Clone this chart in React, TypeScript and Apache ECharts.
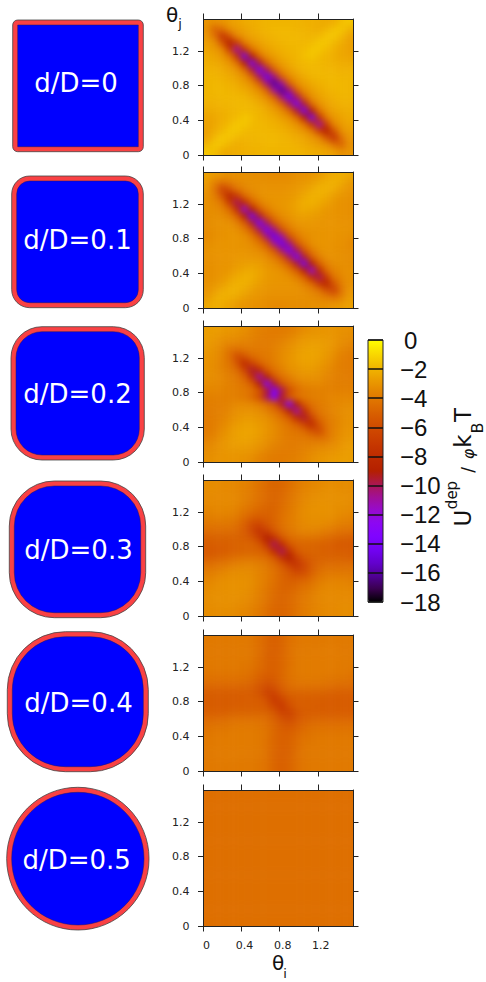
import React, { useEffect, useRef } from "react";
import * as echarts from "echarts";

// Depletion potential depth |U| (rows top to bottom, columns theta_i ascending)
const depth0 = [
[3,3.2,3,2.7,2.5,2.3,2.2,2.1,2,2,2,2,2,2.1,2.1,2.2,2.3,2.2,1.7,1.5],
[3.2,4.8,4.4,3.2,2.8,2.5,2.3,2.1,2,1.9,1.9,1.9,2,2,2.1,2.2,2,1.6,1.5,2],
[3,4.4,7.5,5.6,3.5,2.9,2.5,2.3,2.1,2,1.9,1.9,1.9,2,2,1.9,1.6,1.5,1.9,2.5],
[2.7,3.2,5.6,9,6.8,3.9,3,2.6,2.3,2.1,2,1.9,1.9,1.9,1.8,1.5,1.5,1.9,2.2,2.6],
[2.5,2.8,3.5,6.8,11,7.5,4.3,3.1,2.6,2.3,2.1,2,1.9,1.8,1.5,1.5,1.8,2.1,2.4,2.6],
[2.3,2.5,2.9,3.9,7.5,14,9,4.6,3.2,2.7,2.3,2.1,2,1.7,1.5,1.8,2,2.2,2.4,2.5],
[2.2,2.3,2.5,3,4.3,9,14,9.5,4.8,3.3,2.7,2.3,2,1.9,1.8,1.9,2,2.1,2.2,2.3],
[2.1,2.1,2.3,2.6,3.1,4.6,9.5,14,10,5,3.4,2.7,2.3,2,1.9,1.9,2,2,2.1,2.1],
[2,2,2.1,2.3,2.6,3.2,4.8,10,14.5,10.5,5,3.4,2.7,2.3,2,1.9,1.9,1.9,2,2],
[2,1.9,2,2.1,2.3,2.7,3.3,5,10.5,16,11,5,3.3,2.7,2.3,2.1,2,1.9,1.9,2],
[2,1.9,1.9,2,2.1,2.3,2.7,3.3,5,11,16,10.5,5,3.3,2.7,2.3,2.1,2,1.9,2],
[2,2,1.9,1.9,1.9,2,2.3,2.7,3.4,5,10.5,14.5,10,4.8,3.2,2.6,2.3,2.1,2,2],
[2.1,2.1,2,2,1.9,1.9,2,2.3,2.7,3.4,5,10,14,9.5,4.6,3.1,2.6,2.3,2.1,2.1],
[2.3,2.2,2.1,2,1.9,1.8,1.9,2,2.3,2.7,3.3,4.8,9.5,14,9,4.3,3,2.5,2.3,2.2],
[2.5,2.4,2.2,2,1.8,1.5,1.7,2,2.1,2.3,2.7,3.2,4.6,9,14,7.5,3.9,2.9,2.5,2.3],
[2.6,2.4,2.1,1.8,1.5,1.5,1.8,1.9,2,2.1,2.3,2.6,3.1,4.3,7.5,11,6.8,3.5,2.8,2.5],
[2.6,2.2,1.9,1.5,1.5,1.8,1.9,1.9,1.9,2,2.1,2.3,2.6,3,3.9,6.8,9,5.6,3.2,2.7],
[2.5,1.9,1.5,1.6,1.9,2,2,1.9,1.9,1.9,2,2.1,2.3,2.5,2.9,3.5,5.6,7.5,4.4,3],
[2,1.5,1.6,2,2.2,2.1,2,2,1.9,1.9,2,2,2.1,2.3,2.5,2.8,3.2,4.4,4.8,3.2],
[1.5,1.7,2.2,2.3,2.2,2.1,2.1,2,2,2,2,2,2,2.1,2.2,2.3,2.5,2.7,3.2,3],
];
const depth1 = [
[2.6,2.8,3,3.2,3.2,3.2,3.3,3.3,3.3,3.4,3.4,3.3,3.2,3.1,3,2.8,2.5,2.3,2.2,2.4],
[2.8,3.6,4.2,3.8,3.5,3.3,3.2,3.2,3.2,3.2,3.2,3.2,3,2.9,2.7,2.4,2.2,2.1,2.3,2.8],
[3,4.2,6.5,5.6,4.2,3.6,3.3,3.1,3.1,3.1,3.1,3,2.9,2.7,2.4,2.1,2.1,2.3,2.7,3],
[3.2,3.8,5.6,8.5,7,4.6,3.7,3.2,3,3,3,2.9,2.7,2.4,2.1,2.1,2.3,2.7,2.9,3.1],
[3.2,3.5,4.2,7,10,8,5,3.8,3.2,3,2.9,2.8,2.5,2.2,2.1,2.3,2.6,2.9,3.1,3.2],
[3.2,3.3,3.6,4.6,8,12,9,5.2,3.9,3.2,3,2.8,2.5,2.3,2.4,2.6,2.9,3,3.1,3.2],
[3.3,3.2,3.3,3.7,5,9,14,9.5,5.4,4,3.3,3,2.7,2.6,2.7,2.8,3,3,3.1,3.2],
[3.3,3.2,3.1,3.2,3.8,5.2,9.5,14,10,5.5,4.1,3.4,3,2.9,2.9,3,3,3,3.1,3.1],
[3.3,3.2,3.1,3,3.2,3.9,5.4,10,14,10.5,5.6,4.1,3.4,3.1,3,3,3,3,3,3.1],
[3.4,3.2,3.1,3,3,3.2,4,5.5,10.5,14.5,11,5.6,4.1,3.4,3.1,3,3,3,3.1,3.2],
[3.2,3.1,3,3,3,3.1,3.4,4.1,5.6,11,14.5,10.5,5.5,4,3.2,3,3,3.1,3.1,3.4],
[3.1,3,3,3,3,3,3.1,3.4,4.1,5.6,10.5,14,10,5.4,3.9,3.2,3,3.1,3.2,3.3],
[3.1,3.1,3,3,2.9,2.9,3,3,3.4,4.1,5.5,10,14,9.5,5.2,3.8,3.2,3.1,3.2,3.3],
[3.2,3.1,3,3,2.8,2.7,2.6,2.7,3,3.3,4,5.4,9.5,14,9,5,3.7,3.3,3.2,3.3],
[3.2,3.1,3,2.9,2.6,2.4,2.3,2.5,2.8,3,3.2,3.9,5.2,9,12,8,4.6,3.6,3.3,3.2],
[3.2,3.1,2.9,2.6,2.3,2.1,2.2,2.5,2.8,2.9,3,3.2,3.8,5,8,10,7,4.2,3.5,3.2],
[3.1,2.9,2.7,2.3,2.1,2.1,2.4,2.7,2.9,3,3,3,3.2,3.7,4.6,7,8.5,5.6,3.8,3.2],
[3,2.7,2.3,2.1,2.1,2.4,2.7,2.9,3,3.1,3.1,3.1,3.1,3.3,3.6,4.2,5.6,6.5,4.2,3],
[2.8,2.3,2.1,2.2,2.4,2.7,2.9,3,3.2,3.2,3.2,3.2,3.2,3.2,3.3,3.5,3.8,4.2,3.6,2.8],
[2.4,2.2,2.3,2.5,2.8,3,3.1,3.2,3.3,3.4,3.4,3.3,3.3,3.3,3.2,3.2,3.2,3,2.8,2.6],
];
const depth2 = [
[2.7,2.7,2.8,2.9,3,3.2,3.5,3.7,3.8,3.9,3.9,3.8,3.6,3.3,3.1,3,3,3,3.1,3.2],
[2.7,2.8,3,3.1,3.2,3.4,3.6,3.8,3.9,3.9,3.8,3.6,3.3,3,2.9,2.9,2.9,3,3.2,3.3],
[2.8,3,3.3,3.5,3.6,3.7,3.8,3.9,3.9,3.8,3.6,3.3,3,2.8,2.7,2.7,2.8,3,3.3,3.5],
[2.9,3.1,3.5,4.2,4.4,4.2,4,4,3.9,3.7,3.4,3.1,2.8,2.6,2.5,2.6,2.8,3.1,3.5,3.7],
[3,3.2,3.6,4.4,6,5.5,4.6,4.2,4,3.7,3.3,3,2.7,2.5,2.5,2.6,2.9,3.3,3.7,3.9],
[3.1,3.3,3.7,4.2,5.5,8,6.5,5,4.3,3.8,3.4,3,2.8,2.6,2.6,2.8,3.1,3.5,3.8,3.9],
[3.1,3.3,3.6,4,4.6,6.5,9.5,8,5.3,4.3,3.7,3.2,3,2.8,2.8,3,3.3,3.6,3.8,3.9],
[3.2,3.3,3.5,3.8,4.1,5,8,11,9,5.5,4.4,3.8,3.3,3.1,3.1,3.2,3.5,3.7,3.8,3.9],
[3.3,3.4,3.5,3.7,3.9,4.3,5.3,9,13,9.5,5.6,4.5,3.9,3.5,3.4,3.4,3.6,3.7,3.8,3.8],
[3.5,3.5,3.6,3.7,3.8,4,4.4,5.5,9.5,13.5,10,5.8,4.6,4,3.8,3.7,3.7,3.7,3.7,3.7],
[3.7,3.7,3.7,3.7,3.8,4,4.6,5.8,10,13.5,9.5,5.5,4.4,4,3.8,3.7,3.6,3.5,3.5,3.5],
[3.8,3.8,3.7,3.6,3.4,3.4,3.5,3.9,4.5,5.6,9.5,13,9,5.3,4.3,3.9,3.7,3.5,3.4,3.3],
[3.9,3.8,3.7,3.5,3.2,3.1,3.1,3.3,3.8,4.4,5.5,9,11,8,5,4.1,3.8,3.5,3.3,3.2],
[3.9,3.8,3.6,3.3,3,2.8,2.8,3,3.2,3.7,4.3,5.3,8,9.5,6.5,4.6,4,3.6,3.3,3.1],
[3.9,3.8,3.5,3.1,2.8,2.6,2.6,2.8,3,3.4,3.8,4.3,5,6.5,8,5.5,4.2,3.7,3.3,3.1],
[3.9,3.7,3.3,2.9,2.6,2.5,2.5,2.7,3,3.3,3.7,4,4.2,4.6,5.5,6,4.4,3.6,3.2,3],
[3.7,3.5,3.1,2.8,2.6,2.5,2.6,2.8,3.1,3.4,3.7,3.9,4,4,4.2,4.4,4.2,3.5,3.1,2.9],
[3.5,3.3,3,2.8,2.7,2.7,2.8,3,3.3,3.6,3.8,3.9,3.9,3.8,3.7,3.6,3.5,3.3,3,2.8],
[3.3,3.2,3,2.9,2.9,2.9,3,3.3,3.6,3.8,3.9,3.9,3.8,3.6,3.4,3.2,3.1,3,2.8,2.7],
[3.2,3.1,3,3,3,3.1,3.3,3.6,3.8,3.9,3.9,3.8,3.7,3.5,3.2,3,2.9,2.8,2.7,2.7],
];
const depth3 = [
[3.3,3.3,3.4,3.4,3.5,3.6,3.9,4.2,4.6,4.8,4.7,4.4,4,3.7,3.5,3.4,3.3,3.3,3.3,3.3],
[3.3,3.3,3.4,3.4,3.5,3.7,3.9,4.3,4.6,4.8,4.7,4.3,3.9,3.6,3.4,3.3,3.2,3.2,3.3,3.3],
[3.4,3.4,3.4,3.4,3.5,3.7,4,4.3,4.6,4.8,4.6,4.2,3.8,3.5,3.3,3.2,3.2,3.2,3.2,3.3],
[3.4,3.4,3.4,3.4,3.5,3.8,4.1,4.4,4.7,4.8,4.5,4.1,3.7,3.4,3.2,3.1,3.1,3.2,3.2,3.3],
[3.6,3.5,3.5,3.5,3.7,4.1,4.4,4.7,4.9,4.8,4.4,4,3.6,3.3,3.1,3.1,3.1,3.2,3.3,3.4],
[3.8,3.7,3.7,3.8,4,4.5,5,5.2,5.1,4.8,4.3,3.9,3.6,3.3,3.2,3.2,3.2,3.3,3.5,3.6],
[4.1,4.1,4.1,4.1,4.4,5,6,6.3,5.5,4.9,4.3,3.9,3.6,3.4,3.3,3.3,3.4,3.6,3.8,3.9],
[4.5,4.5,4.5,4.5,4.7,5.2,6.3,7.5,6.8,5.4,4.6,4.1,3.8,3.6,3.6,3.7,3.9,4.1,4.3,4.4],
[5,4.9,4.9,4.9,4.9,5.1,5.5,6.8,9,7.5,5.4,4.6,4.3,4.2,4.2,4.3,4.5,4.7,4.9,5],
[5.2,5.1,5.1,5,4.9,4.8,4.9,5.4,7.5,10,8,5.5,4.9,4.8,4.8,4.9,5,5.2,5.3,5.3],
[5.3,5.3,5.2,5,4.9,4.8,4.8,4.9,5.5,8,10,7.5,5.4,4.9,4.8,4.9,5,5.1,5.1,5.2],
[5,4.9,4.7,4.5,4.3,4.2,4.2,4.3,4.6,5.4,7.5,9,6.8,5.5,5.1,4.9,4.9,4.9,4.9,5],
[4.4,4.3,4.1,3.9,3.7,3.6,3.6,3.8,4.1,4.6,5.4,6.8,7.5,6.3,5.2,4.7,4.5,4.5,4.5,4.5],
[3.9,3.8,3.6,3.4,3.3,3.3,3.4,3.6,3.9,4.3,4.9,5.5,6.3,6,5,4.4,4.1,4.1,4.1,4.1],
[3.6,3.5,3.3,3.2,3.2,3.2,3.3,3.6,3.9,4.3,4.8,5.1,5.2,5,4.5,4,3.8,3.7,3.7,3.8],
[3.4,3.3,3.2,3.1,3.1,3.1,3.3,3.6,4,4.4,4.8,4.9,4.7,4.4,4.1,3.7,3.5,3.5,3.5,3.6],
[3.3,3.2,3.2,3.1,3.1,3.2,3.4,3.7,4.1,4.5,4.8,4.7,4.4,4.1,3.8,3.5,3.4,3.4,3.4,3.4],
[3.3,3.2,3.2,3.2,3.2,3.3,3.5,3.8,4.2,4.6,4.8,4.6,4.3,4,3.7,3.5,3.4,3.4,3.4,3.4],
[3.3,3.3,3.2,3.2,3.3,3.4,3.6,3.9,4.3,4.7,4.8,4.6,4.3,3.9,3.7,3.5,3.4,3.4,3.3,3.3],
[3.3,3.3,3.3,3.3,3.4,3.5,3.7,4,4.4,4.7,4.8,4.6,4.2,3.9,3.6,3.5,3.4,3.4,3.3,3.3],
];
const depth4 = [
[4,4,4,4,4,4,4.1,4.4,4.8,5,4.8,4.3,4.1,4,4,4,4,4,4,4],
[4,4,4,4,4,4,4.1,4.4,4.8,5,4.8,4.3,4.1,4,4,4,3.9,3.9,4,4],
[4,4,4,4,4,4,4.1,4.4,4.9,5,4.8,4.3,4,4,3.9,3.9,3.9,3.9,4,4],
[4,4,4,4,4,4,4.1,4.5,4.9,5,4.7,4.3,4,3.9,3.9,3.9,3.9,3.9,3.9,4],
[4,4,4,4,4,4.1,4.2,4.5,4.9,5,4.7,4.3,4,3.9,3.9,3.9,3.9,3.9,4,4],
[4.1,4.1,4.1,4.1,4.1,4.2,4.4,4.7,5,5,4.7,4.2,4,3.9,3.9,3.9,3.9,4,4,4.1],
[4.3,4.3,4.3,4.3,4.3,4.4,4.6,5,5.3,5.2,4.7,4.3,4.1,4,4,4,4.1,4.2,4.2,4.3],
[4.7,4.7,4.7,4.7,4.7,4.8,5,5.4,6,5.6,5,4.5,4.3,4.3,4.3,4.3,4.4,4.5,4.6,4.6],
[5.1,5.1,5.1,5.1,5.1,5.1,5.2,5.6,6.5,6.4,5.4,4.9,4.8,4.8,4.8,4.8,4.9,5,5,5],
[5.2,5.2,5.2,5.2,5.2,5.1,5.1,5.2,5.8,7,6.3,5.4,5.1,5.1,5.1,5.1,5.2,5.2,5.2,5.2],
[5.2,5.2,5.2,5.2,5.1,5.1,5.1,5.1,5.4,6.3,7,5.8,5.2,5.1,5.1,5.2,5.2,5.2,5.2,5.2],
[5,5,5,4.9,4.8,4.8,4.8,4.8,4.9,5.4,6.4,6.5,5.6,5.2,5.1,5.1,5.1,5.1,5.1,5.1],
[4.6,4.6,4.5,4.4,4.3,4.3,4.3,4.3,4.5,5,5.6,6,5.4,5,4.8,4.7,4.7,4.7,4.7,4.7],
[4.3,4.2,4.2,4.1,4,4,4,4.1,4.3,4.7,5.2,5.3,5,4.6,4.4,4.3,4.3,4.3,4.3,4.3],
[4.1,4,4,3.9,3.9,3.9,3.9,4,4.2,4.7,5,5,4.7,4.4,4.2,4.1,4.1,4.1,4.1,4.1],
[4,4,3.9,3.9,3.9,3.9,3.9,4,4.3,4.7,5,4.9,4.5,4.2,4.1,4,4,4,4,4],
[4,3.9,3.9,3.9,3.9,3.9,3.9,4,4.3,4.7,5,4.9,4.5,4.1,4,4,4,4,4,4],
[4,4,3.9,3.9,3.9,3.9,4,4,4.3,4.8,5,4.9,4.4,4.1,4,4,4,4,4,4],
[4,4,3.9,3.9,4,4,4,4.1,4.3,4.8,5,4.8,4.4,4.1,4,4,4,4,4,4],
[4,4,4,4,4,4,4,4.1,4.3,4.8,5,4.8,4.4,4.1,4,4,4,4,4,4],
];
const flatRow = [4.4,4.4,4.4,4.4,4.4,4.4,4.4,4.4,4.4,4.4,4.4,4.4,4.4,4.4,4.4,4.4,4.4,4.4,4.4,4.4];
const depth5 = [flatRow,flatRow,flatRow,flatRow,flatRow,flatRow,flatRow,flatRow,flatRow,flatRow,flatRow,flatRow,flatRow,flatRow,flatRow,flatRow,flatRow,flatRow,flatRow,flatRow];

const panels = [depth0, depth1, depth2, depth3, depth4, depth5];
const shapeLabels = ["d/D=0", "d/D=0.1", "d/D=0.2", "d/D=0.3", "d/D=0.4", "d/D=0.5"];
const tickValues = [0, 0.4, 0.8, 1.2];
const thetaMax = 1.57;
const colorMin = -18;
const colorMax = 0;
const colorStep = 2;

const palette = ["#000000","#39004f","#510096","#6301ce","#7202f3","#8004ff","#8c07f3","#970bce","#a11096","#ab174f","#b42000","#bd2a00","#c63700","#ce4600","#d55700","#dd6c00","#e48300","#eb9d00","#f2ba00","#f9db00","#ffff00"];

const FONT = "DejaVu Sans";
const frameLeft = 203.5;
const frameWidth = 149.5;
const frameHeight = 136;
const frameTops = [19, 172, 326, 480, 635, 790];

// outer box of each particle silhouette: x0, y0, x1, y1, radius
const shapeBoxes = [
  [12.7, 20, 143.3, 151.7, 5],
  [11.7, 176, 143.3, 307.7, 18],
  [11, 326.7, 144.3, 460, 31],
  [9.3, 481, 145.7, 617.7, 45],
  [7.3, 631.7, 148.3, 771.7, 58],
  [6.7, 787.3, 149, 930, 71],
];
const labelCentres = [
  [76, 83], [77.5, 240], [77.5, 394], [78.5, 550], [78.5, 703], [76.7, 860],
];
const BAND = 5;

function heatOption() {
  const grid: any[] = [], xAxis: any[] = [], yAxis: any[] = [], series: any[] = [];
  panels.forEach((m, p) => {
    const nr = m.length, nc = m[0].length;
    const cw = frameWidth / nc, ch = frameHeight / nr;
    grid.push({
      left: frameLeft - cw, top: frameTops[p] - ch,
      width: frameWidth + 2 * cw, height: frameHeight + 2 * ch,
      show: false,
    });
    xAxis.push({ type: "category", gridIndex: p, show: false, data: Array.from({ length: nc + 2 }, (_, i) => i) });
    yAxis.push({ type: "category", gridIndex: p, show: false, inverse: true, data: Array.from({ length: nr + 2 }, (_, i) => i) });
    const data: number[][] = [];
    for (let r = -1; r <= nr; r++) {
      for (let c = -1; c <= nc; c++) {
        const rr = Math.min(nr - 1, Math.max(0, r));
        const cc = Math.min(nc - 1, Math.max(0, c));
        data.push([c + 1, r + 1, -m[rr][cc]]);
      }
    }
    series.push({
      type: "heatmap", xAxisIndex: p, yAxisIndex: p, data, silent: true,
      itemStyle: { borderWidth: 0 }, progressive: 0,
    });
  });
  return {
    animation: false, grid, xAxis, yAxis, series,
    visualMap: { type: "continuous", show: false, min: colorMin, max: colorMax, inRange: { color: palette } },
  };
}

function txt(text: string, x: number, y: number, size: number, opts: any = {}) {
  return {
    type: "text", x, y, rotation: opts.rotation || 0, silent: true, z: 20,
    style: {
      text, x: 0, y: 0, fill: opts.fill || "#111",
      font: `${opts.italic ? "italic " : ""}${size}px "${FONT}"`,
      align: "center", verticalAlign: "middle", textAlign: "center", textVerticalAlign: "middle",
    },
  };
}

function mainOption() {
  const grid: any[] = [], xAxis: any[] = [], yAxis: any[] = [];
  const lineStyle = { color: "#222", width: 1 };
  const fmt = (v: number) => (v === 0 ? "0" : v.toFixed(1));
  frameTops.forEach((top, p) => {
    grid.push({ left: frameLeft, top, width: frameWidth, height: frameHeight, show: false });
    const common = {
      type: "value", gridIndex: p, min: 0, max: thetaMax, interval: 0.4,
      axisLine: { show: true, onZero: false, lineStyle },
      splitLine: { show: false },
      axisTick: { show: true, length: 5.5, lineStyle, customValues: tickValues },
    };
    const isLast = p === frameTops.length - 1;
    xAxis.push({
      ...common, position: "bottom",
      axisLabel: isLast
        ? { show: true, customValues: tickValues, formatter: fmt, fontFamily: FONT, fontSize: 11, color: "#222", margin: 14, padding: [0, 0, 0, 6] }
        : { show: false },
    });
    xAxis.push({ ...common, position: "top", axisLabel: { show: false } });
    yAxis.push({
      ...common, position: "left",
      axisLabel: { show: true, customValues: tickValues, formatter: fmt, fontFamily: FONT, fontSize: 11, color: "#222", margin: 14 },
    });
    yAxis.push({ ...common, position: "right", axisLabel: { show: false } });
  });

  // colour bar frame, separators and tick labels
  const cb = frameTops.length;
  grid.push({ left: 368, top: 340, width: 15, height: 262, show: true, borderColor: "#222", borderWidth: 1, backgroundColor: "transparent", z: 6 });
  xAxis.push({ type: "value", gridIndex: cb, show: false, min: 0, max: 1 });
  yAxis.push({
    type: "value", gridIndex: cb, min: colorMin, max: colorMax, interval: colorStep, position: "right", z: 6,
    axisLine: { show: false }, axisTick: { show: false },
    splitLine: { show: true, lineStyle: { color: "#111", width: 1.5 } },
    axisLabel: {
      show: true, margin: 17, align: "left", fontFamily: "Liberation Sans", fontSize: 24, color: "#111",
      formatter: (v: number) => (v === 0 ? "{z|0}" : `\u2212${Math.abs(v)}`),
      rich: { z: { fontFamily: "Liberation Sans", fontSize: 24, color: "#111", padding: [0, 0, 0, 4] } },
    },
  });

  const graphic: any[] = [];
  shapeBoxes.forEach(([x0, y0, x1, y1, r], i) => {
    graphic.push({
      type: "rect", silent: true, z: 10,
      shape: { x: x0, y: y0, width: x1 - x0, height: y1 - y0, r },
      style: { fill: "#f94144", stroke: "#444", lineWidth: 0.8 },
    });
    graphic.push({
      type: "rect", silent: true, z: 11,
      shape: { x: x0 + BAND, y: y0 + BAND, width: x1 - x0 - 2 * BAND, height: y1 - y0 - 2 * BAND, r: Math.max(0, r - BAND) },
      style: { fill: "#0000ff", stroke: "#1a1a66", lineWidth: 0.5 },
    });
    graphic.push(txt(shapeLabels[i], labelCentres[i][0], labelCentres[i][1], 26, { fill: "#ffffff" }));
  });
  graphic.push(txt("\u03b8", 172, 15, 20), txt("j", 180, 23, 13));
  graphic.push(txt("\u03b8", 278, 963, 20), txt("i", 285, 973, 13));
  const up = Math.PI / 2;
  graphic.push(
    txt("U", 463, 518, 23, { rotation: up }),
    txt("dep", 451.5, 495, 15, { rotation: up }),
    txt("/", 468, 470, 17, { rotation: up }),
    txt("\u03c6", 468, 454, 16, { rotation: up, italic: true }),
    txt("k", 463, 441, 23, { rotation: up }),
    txt("B", 477, 428, 16, { rotation: up }),
    txt("T", 463, 415, 23, { rotation: up }),
  );

  return {
    animation: false, grid, xAxis, yAxis, graphic,
    visualMap: {
      type: "continuous", show: true, seriesIndex: [], min: colorMin, max: colorMax,
      left: 368, top: 340, itemWidth: 15, itemHeight: 262, padding: 0, text: null,
      calculable: false, hoverLink: false, silent: true, inRange: { color: palette },
    },
  };
}

export default function App() {
  const heatRef = useRef<HTMLDivElement>(null);
  const mainRef = useRef<HTMLDivElement>(null);
  useEffect(() => {
    const heat = echarts.init(heatRef.current!, undefined, { renderer: "svg" });
    const main = echarts.init(mainRef.current!, undefined, { renderer: "svg" });
    heat.setOption(heatOption() as any);
    main.setOption(mainOption() as any);
    return () => { heat.dispose(); main.dispose(); };
  }, []);
  const clip = frameTops
    .map((t) => `M${frameLeft} ${t}H${frameLeft + frameWidth}V${t + frameHeight}H${frameLeft}Z`)
    .join("");
  return (
    <div style={{ position: "absolute", left: 0, top: 0, width: 486, height: 982, background: "#fff", overflow: "hidden" }}>
      <div
        ref={heatRef}
        style={{ position: "absolute", left: 0, top: 0, width: 486, height: 982, filter: "blur(3px)", clipPath: `path("${clip}")` }}
      />
      <div ref={mainRef} style={{ position: "absolute", left: 0, top: 0, width: 486, height: 982 }} />
    </div>
  );
}
